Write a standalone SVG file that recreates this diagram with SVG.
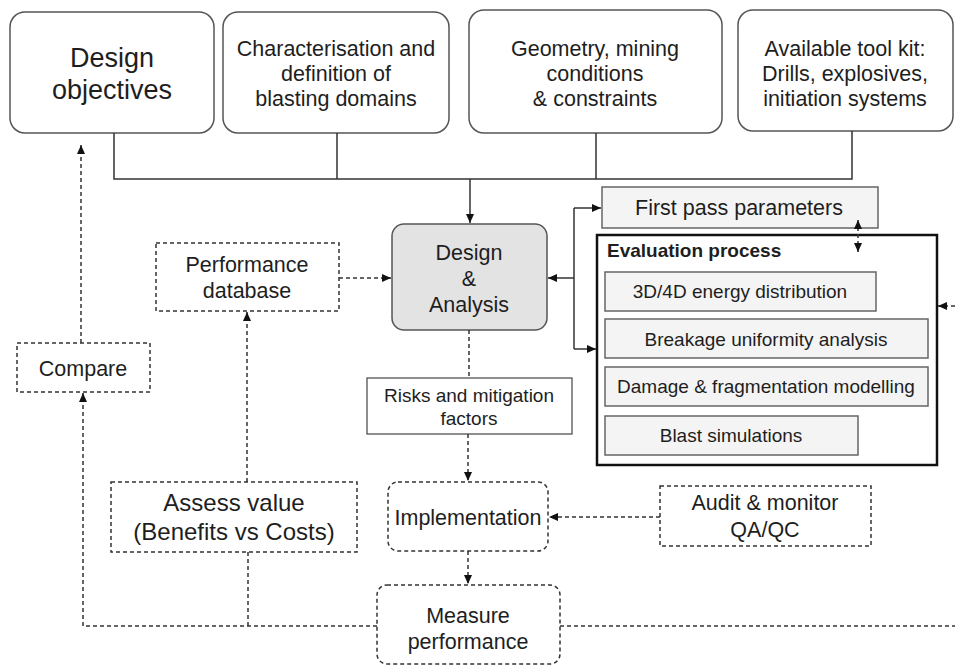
<svg xmlns="http://www.w3.org/2000/svg" width="955" height="666" viewBox="0 0 955 666">
<style>
text{font-family:"Liberation Sans",Arial,sans-serif;fill:#1e1e1e;text-anchor:middle}
.t{font-size:21.5px}
.s{font-size:19px}
.big{font-size:27px}
.ass{font-size:24px}
.bold{font-size:19px;font-weight:bold;text-anchor:start}
.top{fill:#fff;stroke:#555;stroke-width:1.5}
.dash{fill:#fff;stroke:#333;stroke-width:1.5;stroke-dasharray:4 3}
.inner{fill:#f4f4f4;stroke:#666;stroke-width:1.5}
.ln{fill:none;stroke:#333;stroke-width:1.5}
.dl{fill:none;stroke:#333;stroke-width:1.5;stroke-dasharray:4 3}
</style>
<defs>
<marker id="ah" markerUnits="userSpaceOnUse" markerWidth="10" markerHeight="10" viewBox="0 0 10 10" refX="9" refY="5" orient="auto-start-reverse">
<path d="M0,1 L9,5 L0,9 Z" fill="#111"/>
</marker>
</defs>
<rect width="955" height="666" fill="#fff"/>

<g id="design-objectives">
<rect class="top" x="10" y="12" width="204" height="121" rx="15"/>
<text class="big" x="112" y="67">Design</text>
<text class="big" x="112" y="99">objectives</text>
</g>
<g id="characterisation">
<rect class="top" x="223" y="12" width="226" height="121" rx="15"/>
<text class="t" x="336" y="56">Characterisation and</text>
<text class="t" x="336" y="81">definition of</text>
<text class="t" x="336" y="106">blasting domains</text>
</g>
<g id="geometry">
<rect class="top" x="469" y="10" width="253" height="123" rx="15"/>
<text class="t" x="595" y="56">Geometry, mining</text>
<text class="t" x="595" y="81">conditions</text>
<text class="t" x="595" y="106">&amp; constraints</text>
</g>
<g id="toolkit">
<rect class="top" x="738" y="10" width="215" height="121" rx="15"/>
<text class="t" x="845" y="56">Available tool kit:</text>
<text class="t" x="845" y="81">Drills, explosives,</text>
<text class="t" x="845" y="106">initiation systems</text>
</g>

<g id="design-analysis">
<rect x="392" y="224" width="155" height="106" rx="12" fill="#e3e3e3" stroke="#555" stroke-width="1.5"/>
<text class="t" x="469" y="260">Design</text>
<text class="t" x="469" y="286">&amp;</text>
<text class="t" x="469" y="312">Analysis</text>
</g>

<g id="performance-database">
<rect class="dash" x="156" y="243" width="183" height="68"/>
<text class="t" x="247" y="272">Performance</text>
<text class="t" x="247" y="298">database</text>
</g>
<g id="compare">
<rect class="dash" x="17" y="343" width="133" height="49"/>
<text class="t" x="83" y="376">Compare</text>
</g>

<g id="risks">
<rect x="367" y="378" width="205" height="56" fill="#fff" stroke="#444" stroke-width="1.2"/>
<text class="s" x="469" y="402">Risks and mitigation</text>
<text class="s" x="469" y="425">factors</text>
</g>

<g id="first-pass">
<rect class="inner" x="602" y="187" width="276" height="41"/>
<text class="t" x="739" y="215">First pass parameters</text>
</g>

<g id="evaluation-process">
<rect x="597" y="235" width="340" height="230" fill="#fff" stroke="#111" stroke-width="2.5"/>
<text class="bold" x="607" y="257">Evaluation process</text>
<rect class="inner" x="605" y="272" width="271" height="39"/>
<text class="s" x="740" y="298">3D/4D energy distribution</text>
<rect class="inner" x="605" y="319" width="323" height="39"/>
<text class="s" x="766" y="346">Breakage uniformity analysis</text>
<rect class="inner" x="605" y="367" width="323" height="39"/>
<text class="s" x="766" y="393">Damage &amp; fragmentation modelling</text>
<rect class="inner" x="605" y="416" width="253" height="39"/>
<text class="s" x="731" y="442">Blast simulations</text>
</g>

<g id="assess-value">
<rect class="dash" x="111" y="482" width="246" height="70"/>
<text class="ass" x="234" y="511">Assess value</text>
<text class="ass" x="234" y="540">(Benefits vs Costs)</text>
</g>
<g id="implementation">
<rect class="dash" x="388" y="482" width="160" height="69" rx="10"/>
<text class="t" x="468" y="525">Implementation</text>
</g>
<g id="audit">
<rect class="dash" x="660" y="486" width="211" height="60"/>
<text class="t" x="765" y="510">Audit &amp; monitor</text>
<text class="t" x="765" y="537">QA/QC</text>
</g>
<g id="measure-performance">
<rect class="dash" x="377" y="585" width="183" height="79" rx="10"/>
<text class="t" x="468" y="623">Measure</text>
<text class="t" x="468" y="649">performance</text>
</g>

<g id="connectors">
<path class="ln" d="M114,133 V179 H852 V131 M337,133 V179 M596,133 V179"/>
<path class="ln" d="M470,179 V223" marker-end="url(#ah)"/>
<path class="ln" d="M574,278 H548" marker-end="url(#ah)"/>
<path class="ln" d="M574,208 V349"/>
<path class="ln" d="M574,208 H601" marker-end="url(#ah)"/>
<path class="ln" d="M574,349 H596" marker-end="url(#ah)"/>
<path class="dl" d="M858,220 V252" marker-start="url(#ah)" marker-end="url(#ah)"/>
<path class="dl" d="M339,278 H391" marker-end="url(#ah)"/>
<path class="dl" d="M81,343 V145" marker-end="url(#ah)"/>
<path class="dl" d="M377,626 H83 V393" marker-end="url(#ah)"/>
<path class="dl" d="M248,552 V626"/>
<path class="dl" d="M247,482 V312" marker-end="url(#ah)"/>
<path class="dl" d="M469,330 V378"/>
<path class="dl" d="M468,434 V481" marker-end="url(#ah)"/>
<path class="dl" d="M468,551 V584" marker-end="url(#ah)"/>
<path class="dl" d="M660,517 H549" marker-end="url(#ah)"/>
<path class="dl" d="M560,626 H955"/>
<path class="dl" d="M955,306 H938" marker-end="url(#ah)"/>
</g>
</svg>
